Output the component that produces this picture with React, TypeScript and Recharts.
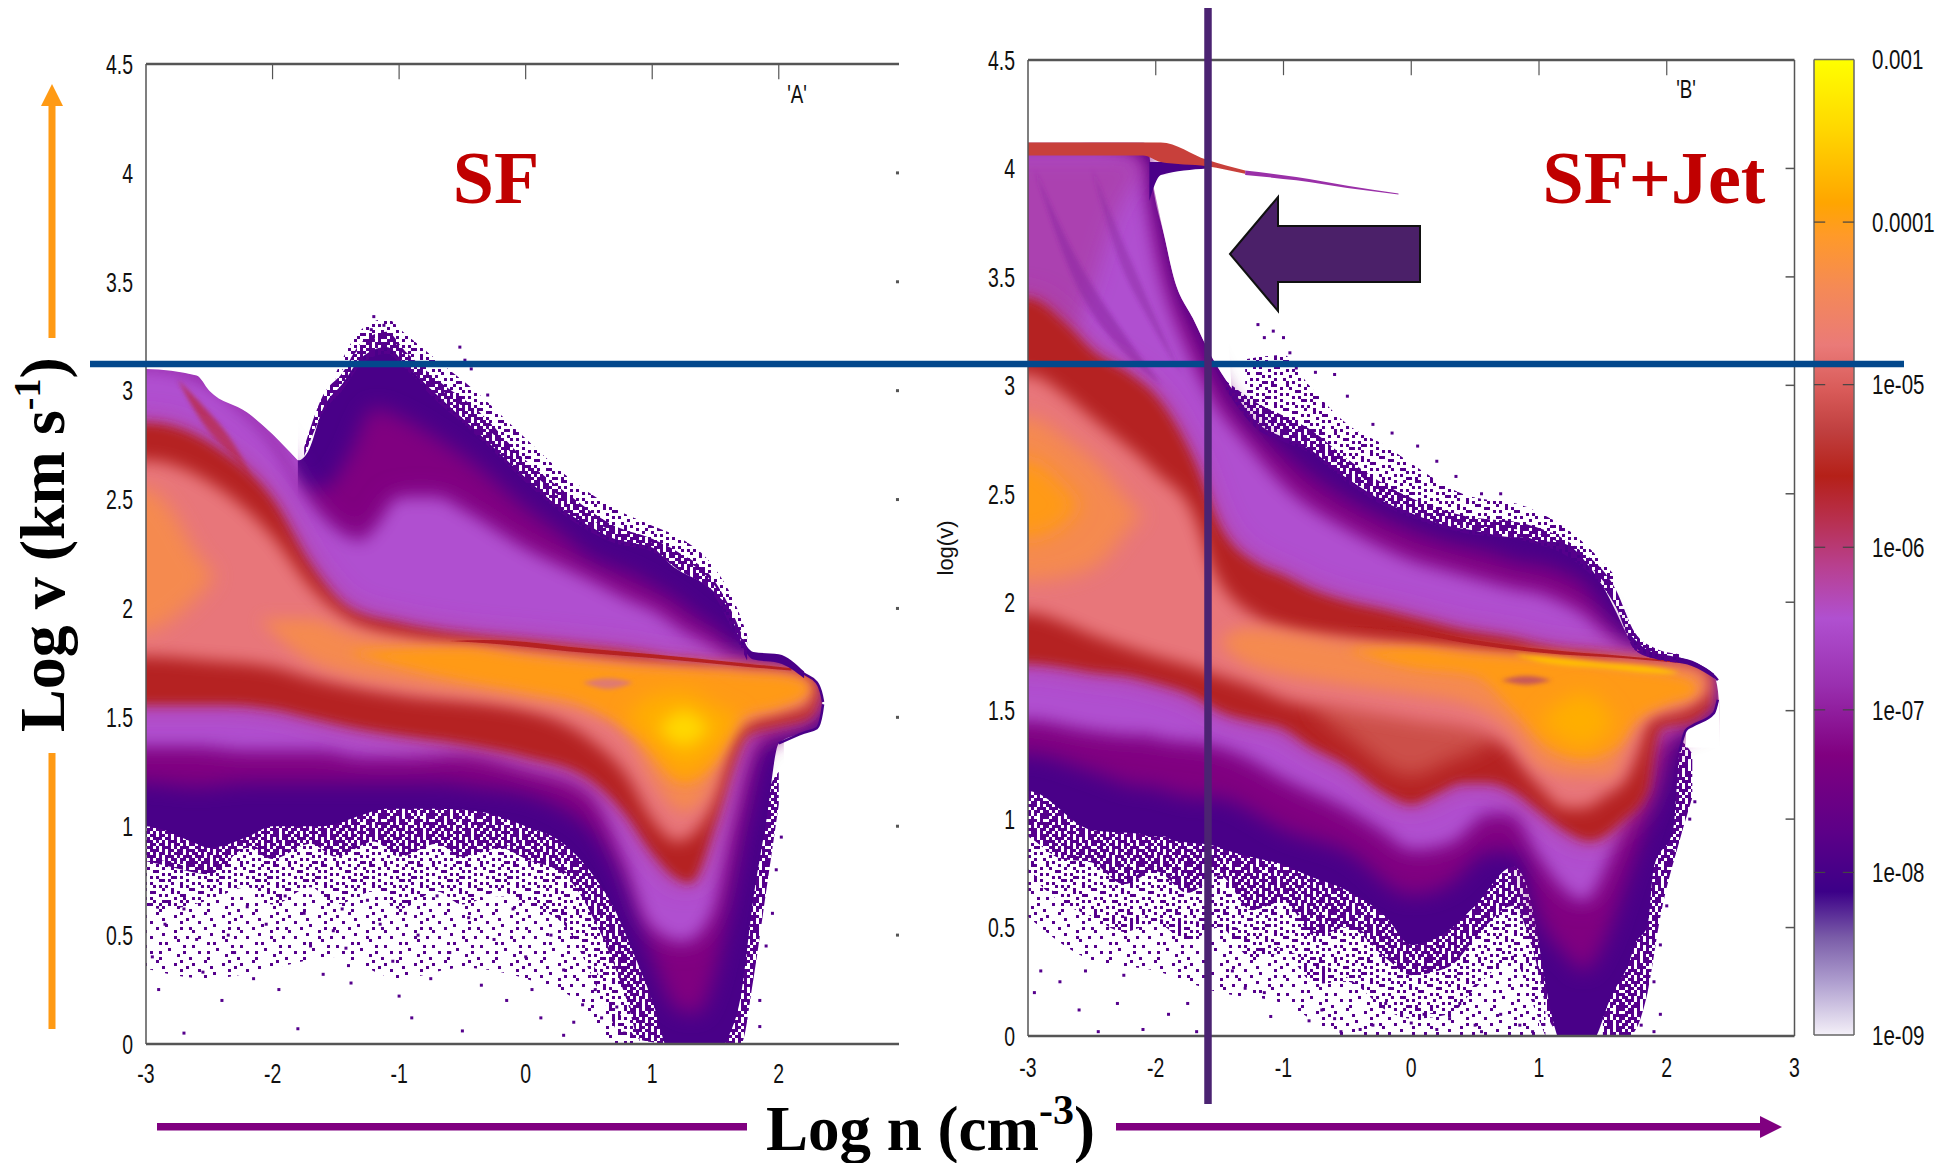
import React from "react";
import { ComposedChart, Area, Scatter, XAxis, YAxis, ReferenceLine } from "recharts";

type Band = [number, number, number][];

// ---------- panel A (SF): contour bands [log n, log v low, log v high] ----------
const A_env: Band = [[-3.3,1.0,3.1],[-3,1.0,3.1],[-2.6,.92,3.07],[-2.5,.9,3.0],[-2.2,.95,2.9],[-2,1.0,2.8],[-1.8,1.0,2.68],[-1.72,1.0,2.72],[-1.6,1.0,2.92],[-1.45,1.02,3.03],[-1.3,1.05,3.15],[-1.1,1.08,3.2],[-.95,1.08,3.12],[-.7,1.08,2.98],[-.4,1.07,2.82],[0,1.0,2.6],[.3,.92,2.45],[.5,.8,2.38],[.7,.62,2.32],[.85,.42,2.3],[1.0,.2,2.28],[1.15,-.05,2.2],[1.5,-.05,2.07],[1.6,.03,2.0],[1.7,.22,1.85],[1.8,.67,1.78],[1.9,1.02,1.78],[2.0,1.38,1.78],[2.2,1.43,1.7],[2.3,1.45,1.66],[2.34,1.52,1.6],[2.35,1.56,1.57]];
const A_topCap: Band = [[-3.3,2.85,3.1],[-3,2.85,3.1],[-2.6,2.85,3.07],[-2.5,2.8,3.0],[-2.2,2.7,2.9],[-2,2.6,2.8],[-1.8,2.5,2.68]];
const A_purple: Band = [[-3.3,1.2,3.1],[-3,1.2,3.1],[-2.6,1.18,3.07],[-2.2,1.2,2.88],[-2,1.2,2.75],[-1.8,1.2,2.55],[-1.6,1.2,2.55],[-1.4,1.2,2.7],[-1.2,1.2,2.92],[-1,1.2,2.88],[-.7,1.2,2.78],[-.4,1.18,2.66],[0,1.15,2.46],[.3,1.08,2.33],[.5,1.0,2.23],[.7,.85,2.18],[.85,.68,2.15],[1,.4,2.1],[1.2,.16,2.03],[1.35,.14,1.96],[1.5,.34,1.9],[1.65,.8,1.8],[1.75,1.1,1.74],[1.85,1.35,1.73],[2,1.42,1.73],[2.2,1.47,1.68],[2.3,1.5,1.64],[2.33,1.55,1.58]];
const A_bright: Band = [[-3.3,1.38,3.1],[-3,1.38,3.1],[-2.6,1.38,3.05],[-2.2,1.36,2.88],[-2,1.36,2.75],[-1.8,1.36,2.55],[-1.6,1.36,2.4],[-1.3,1.33,2.3],[-1.15,1.33,2.38],[-1,1.33,2.5],[-.7,1.34,2.5],[-.5,1.35,2.44],[0,1.28,2.26],[.5,1.18,2.12],[.8,.85,2.03],[1,.55,1.98],[1.25,.48,1.88],[1.45,.6,1.82],[1.6,1.0,1.76],[1.75,1.35,1.74],[1.85,1.45,1.73],[2.2,1.5,1.68],[2.3,1.55,1.6]];
const A_arc: Band = [[-2.75,3.05,3.05],[-2.55,2.85,2.93],[-2.3,2.68,2.75],[-2.1,2.52,2.52]];
const A_red: Band = [[-3.3,1.56,2.85],[-3,1.56,2.85],[-2.4,1.56,2.72],[-2,1.54,2.5],[-1.7,1.5,2.2],[-1.4,1.46,2.0],[-1,1.42,1.93],[-.5,1.38,1.88],[0,1.32,1.85],[.5,1.22,1.82],[.8,1.05,1.8],[1,.88,1.78],[1.2,.76,1.76],[1.3,.74,1.76],[1.5,1.02,1.74],[1.65,1.3,1.74],[1.75,1.42,1.74],[2,1.46,1.72],[2.25,1.5,1.69],[2.32,1.58,1.62]];
const A_salmon: Band = [[-3.3,1.78,2.68],[-3,1.78,2.68],[-2.5,1.76,2.58],[-2,1.73,2.33],[-1.7,1.68,2.1],[-1.4,1.64,1.95],[-1,1.6,1.87],[0,1.53,1.81],[.5,1.4,1.78],[.8,1.23,1.76],[1,1.03,1.75],[1.2,.93,1.74],[1.35,.98,1.73],[1.5,1.13,1.72],[1.6,1.33,1.72],[1.7,1.47,1.71],[2,1.52,1.7],[2.25,1.55,1.67]];
const A_blob: Band = [[-3.3,1.9,2.55],[-3,1.9,2.55],[-2.8,1.95,2.45],[-2.6,2.05,2.25],[-2.45,2.15,2.15]];
const A_glow: Band = [[-2.1,1.95,1.95],[-1.7,1.76,1.95],[-1.4,1.7,1.89],[-1,1.66,1.85],[0,1.58,1.79],[.5,1.52,1.76],[.8,1.43,1.74],[1,1.22,1.73],[1.25,1.07,1.72],[1.45,1.17,1.72],[1.6,1.4,1.72],[1.75,1.48,1.71],[2,1.53,1.7],[2.2,1.58,1.68],[2.27,1.63,1.63]];
const A_orange: Band = [[-1.4,1.8,1.8],[-.5,1.67,1.82],[0,1.62,1.78],[.5,1.55,1.75],[.9,1.4,1.73],[1.25,1.2,1.72],[1.5,1.3,1.71],[1.7,1.5,1.7],[2,1.55,1.69],[2.2,1.6,1.66],[2.25,1.63,1.63]];
const A_amber: Band = [[.8,1.5,1.5],[1,1.38,1.6],[1.25,1.25,1.62],[1.5,1.35,1.55],[1.7,1.5,1.5]];
const A_yellow: Band = [[1.05,1.45,1.45],[1.25,1.37,1.53],[1.45,1.45,1.45]];
const A_lens: Band = [[.45,1.66,1.66],[.65,1.63,1.68],[.85,1.66,1.66]];
const A_ridge: Band = [[-.6,1.85,1.85],[-.3,1.84,1.855],[.5,1.795,1.815],[1,1.772,1.79],[1.7,1.735,1.75],[2.1,1.715,1.725]];
const A_maskLeft: Band = [[-3.3,3.1,3.3],[-3,3.1,3.3],[-2.6,3.07,3.3],[-2.5,3.0,3.3],[-2.2,2.9,3.3],[-2,2.8,3.3],[-1.8,2.68,2.95]];
const A_maskTipTop: Band = [[1.7,1.85,2.0],[1.8,1.78,2.0],[1.9,1.78,2.0],[2.0,1.78,2.0],[2.2,1.7,2.0],[2.3,1.66,2.0],[2.34,1.6,2.0],[2.36,1.25,2.0],[2.7,1.25,2.0]];
const A_maskTipLow: Band = [[2.04,1.25,1.39],[2.2,1.25,1.43],[2.3,1.25,1.45],[2.34,1.25,1.52],[2.36,1.25,1.56]];
const A_rim: Band = [[2.0,1.38,1.78],[2.2,1.43,1.7],[2.3,1.45,1.66],[2.34,1.52,1.6],[2.35,1.56,1.57]];
const A_shelf: Band = [[1.7,1.84,1.87],[1.8,1.765,1.8],[2.0,1.75,1.79],[2.2,1.68,1.71]];
const A_denseLow: Band = [[-3.3,.88,1.06],[-2.85,.82,1.02],[-2.5,.78,.96],[-2.2,.9,1.02],[-2,.85,1.06],[-1.7,.92,1.06],[-1.5,.86,1.08],[-1.2,.93,1.12],[-1,.86,1.14],[-.7,.92,1.14],[-.5,.86,1.13],[-.2,.9,1.1],[0,.85,1.06],[.3,.78,.98],[.6,.5,.76],[.8,.2,.54],[.9,.02,.44],[1.15,0,.05]];
const A_medLow: Band = [[-3.3,.7,.9],[-2.85,.62,.84],[-2.5,.66,.8],[-2.2,.72,.92],[-2,.64,.87],[-1.7,.72,.94],[-1.5,.64,.88],[-1.2,.7,.95],[-1,.62,.88],[-.7,.7,.94],[-.5,.64,.88],[-.2,.7,.92],[0,.64,.87],[.3,.55,.8],[.6,.22,.52],[.8,0,.22],[.9,0,.04]];
const A_sparseLow: Band = [[-3.3,.4,.72],[-2.5,.3,.67],[-2,.35,.7],[-1.5,.4,.68],[-1,.3,.68],[-.5,.35,.67],[0,.3,.68],[.4,.2,.5],[.7,0,.18],[.9,0,0]];
const A_fringeTop: Band = [[-1.75,2.7,2.74],[-1.6,2.9,2.98],[-1.45,3.0,3.08],[-1.3,3.12,3.22],[-1.1,3.17,3.27],[-.95,3.1,3.18],[-.7,2.95,3.05],[-.4,2.8,2.92],[0,2.58,2.68],[.3,2.43,2.54],[.7,2.3,2.38],[1,2.26,2.32],[1.2,2.18,2.26],[1.5,2.05,2.12],[1.65,1.88,1.96],[1.75,1.76,1.82]];
const A_fringeOuter: Band = [[-1.5,3.05,3.08],[-1.3,3.2,3.28],[-1.1,3.25,3.33],[-.95,3.16,3.26],[-.7,3.02,3.14],[-.4,2.88,3.0],[0,2.65,2.78],[.3,2.5,2.62],[.7,2.35,2.46],[1,2.3,2.38],[1.2,2.24,2.33],[1.5,2.1,2.18],[1.65,1.94,2.03],[1.75,1.8,1.88]];
const A_fringeSide: Band = [[1.5,0,.1],[1.7,0,.3],[1.8,.3,.76],[1.9,.7,1.12],[2.0,1.1,1.25]];
const A_dots: [number, number][] = [[-2.7,.05],[-1.8,.07],[-.9,.12],[-.5,.06],[.3,.04],[-2.95,.4],[-2.9,.25],[-2.85,.55],[-2.7,.62],[-2.6,.48],[-2.55,.33],[-2.4,.2],[-2.35,.5],[-2.3,.42],[-2.2,.63],[-2.15,.3],[-2.05,.55],[-1.95,.25],[-1.9,.68],[-1.75,.6],[-1.7,.45],[-1.6,.32],[-1.52,.52],[-1.45,.62],[-1.42,.44],[-1.4,.36],[-1.38,.28],[-1.25,.66],[-1.15,.55],[-1.05,.38],[-1,.22],[-.95,.6],[-.85,.5],[-.75,.3],[-.7,.68],[-.6,.42],[-.45,.58],[-.35,.27],[-.25,.48],[-.15,.2],[-.1,.62],[0,.4],[.05,.25],[.12,.12],[.2,.5],[.3,.34],[.38,.1],[.45,.18],[.55,.25],[.6,.12],[.72,.17],[.78,.05],[1.85,.2],[1.9,.45],[1.95,.6],[1.85,.08],[2.02,.95],[1.98,.8],[-1.22,3.28],[-1.2,3.34],[-1.12,3.3],[-.52,3.2],[-.48,3.14],[-.43,3.1],[-.3,2.98]];

// ---------- panel B (SF+Jet) ----------
const B_env: Band = [[-3.3,1.13,4.1],[-3,1.13,4.1],[-2.5,.95,4.12],[-2.1,.93,4.12],[-2.06,.92,4.1],[-2.03,.92,3.95],[-1.93,.92,3.68],[-1.86,.9,3.5],[-1.71,.89,3.31],[-1.56,.88,3.13],[-1.41,.85,2.99],[-1.21,.82,2.83],[-1,.79,2.76],[-.81,.74,2.71],[-.5,.67,2.57],[-.2,.55,2.46],[0,.42,2.41],[.3,.49,2.35],[.5,.6,2.33],[.8,.78,2.3],[.9,.7,2.3],[1,.42,2.28],[1.05,.24,2.28],[1.2,-.05,2.27],[1.4,-.05,2.16],[1.45,0,2.12],[1.55,.16,2.02],[1.6,.22,1.96],[1.7,.33,1.84],[1.75,.42,1.8],[1.85,.51,1.77],[1.9,.78,1.76],[2.05,.95,1.74],[2.1,1.31,1.74],[2.15,1.41,1.73],[2.2,1.43,1.72],[2.37,1.49,1.66],[2.4,1.55,1.64]];
const B_hook: Band = [[-2.05,3.85,4.03],[-1.96,3.97,4.03],[-1.6,4.0,4.02]];
const B_purple: Band = [[-3.3,1.3,4.1],[-3,1.3,4.1],[-2.5,1.22,4.12],[-2.1,1.15,4.1],[-2.03,1.15,3.9],[-1.93,1.13,3.66],[-1.86,1.12,3.48],[-1.71,1.1,3.28],[-1.5,1.1,3.02],[-1.4,1.08,2.92],[-1,.95,2.68],[-.5,.85,2.47],[0,.65,2.33],[.3,.7,2.27],[.6,.85,2.23],[.85,.85,2.18],[1,.55,2.17],[1.2,.38,2.13],[1.35,.3,2.08],[1.5,.42,1.95],[1.7,.75,1.8],[1.9,1.1,1.75],[2.05,1.35,1.74],[2.2,1.45,1.71],[2.35,1.52,1.65]];
const B_bright: Band = [[-3.3,1.47,4.08],[-3,1.47,4.08],[-2.5,1.42,4.08],[-2.15,1.4,4.04],[-2.08,1.4,3.8],[-2,1.39,3.55],[-1.93,1.38,3.4],[-1.8,1.37,3.2],[-1.6,1.36,2.95],[-1.3,1.3,2.72],[-1,1.2,2.52],[-.5,1.06,2.32],[-.2,.95,2.23],[0,.87,2.18],[.3,.9,2.13],[.6,1.04,2.08],[.8,1.04,2.05],[1,.85,2.03],[1.2,.69,1.98],[1.35,.63,1.93],[1.5,.78,1.85],[1.7,1.1,1.77],[1.85,1.34,1.75],[2,1.41,1.74],[2.2,1.47,1.7],[2.33,1.53,1.64]];
const B_magenta: Band = [[-3.3,3.1,4.05],[-3,3.1,4.05],[-2.6,3.3,4.05],[-2.3,3.8,4.05],[-2.1,4.0,4.03]];
const B_streak1: Band = [[-2.95,4.0,4.0],[-2.65,3.5,3.62],[-2.25,3.15,3.24],[-1.95,3.0,3.0]];
const B_streak2: Band = [[-2.5,4.0,4.0],[-2.3,3.6,3.72],[-2.05,3.3,3.38],[-1.8,3.05,3.05]];
const B_cap: Band = [[-3.3,4.06,4.12],[-2.1,4.06,4.12],[-1.96,4.03,4.12],[-1.6,4.01,4.04],[-1.3,3.975,3.99]];
const B_filament: Band = [[-1.3,3.97,3.99],[-.9,3.945,3.96],[-.5,3.91,3.92],[-.1,3.88,3.885]];
const B_red: Band = [[-3.3,1.72,3.4],[-3,1.72,3.4],[-2.7,1.7,3.28],[-2.5,1.68,3.16],[-2.2,1.66,3.05],[-2,1.63,2.95],[-1.7,1.57,2.65],[-1.5,1.5,2.35],[-1.2,1.45,2.17],[-1,1.42,2.12],[-.8,1.34,2.06],[-.5,1.25,2.0],[-.2,1.12,1.96],[0,1.07,1.93],[.2,1.12,1.9],[.4,1.17,1.87],[.6,1.17,1.85],[.8,1.13,1.83],[1,1.04,1.8],[1.2,.95,1.78],[1.4,.9,1.77],[1.65,.99,1.75],[1.85,1.13,1.74],[1.9,1.31,1.74],[1.95,1.42,1.73],[2.2,1.45,1.72],[2.35,1.52,1.66]];
const B_crescent: Band = [[-.8,1.52,1.52],[-.5,1.38,1.55],[0,1.2,1.5],[.3,1.27,1.48],[.55,1.33,1.42],[.7,1.39,1.39]];
const B_salmon: Band = [[-3.3,1.95,3.05],[-3,1.95,3.05],[-2.7,1.9,2.95],[-2.5,1.85,2.85],[-2,1.75,2.6],[-1.7,1.7,2.4],[-1.55,1.67,2.15],[-1.2,1.6,1.93],[-1,1.55,1.88],[-.5,1.5,1.83],[0,1.45,1.8],[.5,1.4,1.77],[.7,1.35,1.76],[1,1.15,1.75],[1.2,1.05,1.74],[1.35,1.05,1.73],[1.5,1.1,1.73],[1.7,1.2,1.73],[1.8,1.35,1.72],[1.85,1.45,1.72],[2.2,1.52,1.7],[2.33,1.58,1.66]];
const B_blob: Band = [[-3.3,2.1,2.85],[-3,2.1,2.85],[-2.7,2.12,2.75],[-2.4,2.2,2.6],[-2.2,2.35,2.45],[-2.1,2.4,2.4]];
const B_glow: Band = [[-1.5,1.82,1.82],[-1.3,1.72,1.88],[-.5,1.62,1.82],[0,1.58,1.79],[.5,1.52,1.77],[.8,1.4,1.75],[1,1.25,1.74],[1.3,1.2,1.73],[1.55,1.2,1.72],[1.7,1.35,1.72],[1.85,1.48,1.71],[2.2,1.56,1.69],[2.3,1.6,1.66]];
const B_blobCore: Band = [[-3.3,2.3,2.65],[-3,2.3,2.65],[-2.75,2.35,2.55],[-2.6,2.45,2.45]];
const B_orange: Band = [[-.5,1.78,1.78],[0,1.7,1.79],[.5,1.66,1.76],[.8,1.5,1.75],[1.1,1.32,1.74],[1.35,1.28,1.72],[1.6,1.33,1.7],[1.75,1.45,1.69],[2,1.53,1.67],[2.2,1.57,1.63],[2.25,1.6,1.6]];
const B_amber: Band = [[1,1.45,1.45],[1.35,1.33,1.58],[1.6,1.45,1.45]];
const B_streak: Band = [[.8,1.76,1.76],[1,1.75,1.725],[1.5,1.72,1.695],[2,1.69,1.67],[2.1,1.675,1.675]];
const B_lens: Band = [[.7,1.64,1.64],[.9,1.62,1.66],[1.1,1.64,1.64]];
const B_ridge: Band = [[-.5,1.89,1.89],[-.2,1.875,1.89],[.5,1.805,1.825],[1,1.768,1.785],[1.7,1.74,1.75],[2.2,1.715,1.725]];
const B_maskHole: Band = [[-2.03,3.95,3.97],[-1.93,3.68,3.97],[-1.86,3.5,3.96],[-1.71,3.31,3.95],[-1.56,3.13,3.95],[-1.41,2.99,3.02]];
const B_maskAbove: Band = [[-3.3,4.12,4.3],[-2.1,4.12,4.3],[-1.96,4.12,4.3],[-1.6,4.04,4.3],[-1.3,3.99,4.3],[-1.2,3.98,3.99]];
const B_maskTipTop: Band = [[1.7,1.84,2.0],[1.75,1.8,2.0],[1.85,1.77,2.0],[2.05,1.74,2.0],[2.2,1.72,2.0],[2.37,1.66,2.0],[2.41,1.55,2.0],[2.42,1.33,2.0],[2.7,1.33,2.0]];
const B_maskTipLow: Band = [[2.15,1.33,1.41],[2.2,1.33,1.43],[2.37,1.33,1.49],[2.41,1.33,1.55]];
const B_rim: Band = [[2.1,1.31,1.74],[2.15,1.41,1.73],[2.2,1.43,1.72],[2.37,1.49,1.66],[2.4,1.55,1.64]];
const B_shelf: Band = [[1.7,1.83,1.86],[1.85,1.75,1.78],[2.05,1.725,1.75],[2.2,1.705,1.73],[2.37,1.65,1.67]];
const B_denseLow: Band = [[-3.3,.98,1.2],[-3,.92,1.2],[-2.75,.82,1.1],[-2.5,.8,1.02],[-2.25,.7,1.0],[-2,.76,.99],[-1.75,.66,.97],[-1.5,.74,.95],[-1.25,.58,.9],[-1,.62,.85],[-.75,.46,.8],[-.5,.5,.74],[-.2,.36,.62],[0,.28,.5],[.3,.32,.56],[.5,.45,.67],[.8,.6,.85],[.95,.4,.65],[1.1,.05,.28],[1.22,0,0]];
const B_medLow: Band = [[-3,.75,.94],[-2.75,.62,.84],[-2.5,.55,.82],[-2.25,.48,.72],[-2,.52,.78],[-1.75,.44,.68],[-1.5,.5,.76],[-1.25,.36,.6],[-1,.38,.64],[-.75,.24,.48],[-.5,.25,.52],[-.2,.12,.38],[0,.08,.3],[.3,.1,.34],[.5,.22,.47],[.8,.35,.62],[.95,.15,.42],[1.05,0,.2]];
const B_sparseLow: Band = [[-3,.55,.77],[-2.5,.35,.57],[-2,.3,.54],[-1.5,.2,.52],[-1,.15,.4],[-.5,0,.27],[-.2,0,.14],[0,0,.1],[.3,0,.12],[.5,0,.24],[.8,0,.37],[1,0,.1]];
const B_fringeTop: Band = [[-1.45,2.98,3.02],[-1.21,2.8,2.92],[-1.0,2.74,2.86],[-.8,2.69,2.8],[-.5,2.55,2.66],[-.2,2.44,2.54],[0,2.39,2.48],[.4,2.32,2.4],[.9,2.28,2.36],[1.3,2.18,2.25],[1.6,1.98,2.06],[1.75,1.78,1.86],[1.9,1.74,1.79],[2.1,1.72,1.76]];
const B_fringeOuter: Band = [[-1.3,2.88,3.12],[-1.0,2.83,3.14],[-.8,2.77,3.0],[-.5,2.63,2.82],[-.2,2.5,2.72],[0,2.45,2.64],[.4,2.36,2.5],[.9,2.33,2.44],[1.3,2.22,2.3],[1.6,2.03,2.12]];
const B_fringeSide: Band = [[1.5,0,.14],[1.7,0,.42],[1.85,.2,.62],[1.95,.55,1.0],[2.1,.9,1.36],[2.2,1.1,1.3]];
const B_dots: [number, number][] = [[-2.95,.2],[-2.9,.3],[-2.75,.25],[-2.6,.12],[-2.55,.3],[-2.45,.02],[-2.3,.15],[-2.25,.28],[-2.1,.03],[-1.9,.1],[-1.75,.15],[-1.68,.02],[-1.4,.3],[-1.3,.22],[-1.15,.2],[-1.1,.09],[-.8,.07],[-.7,.12],[-.6,.08],[-.55,.02],[-.4,.03],[-.3,.05],[-.2,.15],[.0,.06],[.1,.1],[.2,.03],[.3,.08],[.38,.15],[.5,.05],[.55,.02],[.7,.1],[.85,.05],[.95,.02],[1.75,.14],[1.8,.05],[1.9,.25],[1.95,.1],[1.9,.02],[1.95,.42],[2.0,.6],[2.05,.85],[2.22,1.08],[2.18,1.0],[-1.2,3.28],[-1.15,3.22],[-1.08,3.25],[-1,3.22],[-.95,3.15],[-.9,3.08],[-.75,3.06],[-.6,3.05],[-.5,2.95],[-.3,2.82],[-.15,2.78],[.05,2.72],[.2,2.65],[.35,2.58],[.55,2.5],[.7,2.5]];

// ---------- axes and colour bar ----------
const yTicks = [0, 0.5, 1, 1.5, 2, 2.5, 3, 3.5, 4, 4.5];
const xTicksA = [-3, -2, -1, 0, 1, 2];
const xTicksB = [-3, -2, -1, 0, 1, 2, 3];
const topTicks = [-2, -1, 0, 1, 2];
const cbExponents = [-9, -8, -7, -6, -5, -4, -3];
const cbLabels = ["1e-09", "1e-08", "1e-07", "1e-06", "1e-05", "0.0001", "0.001"];
const cbMultipliers = [2, 5, 8];
const cbStops: [number, string][] = [[0,"#ffff00"],[.07,"#ffd800"],[.147,"#ffa500"],[.18,"#ff9a28"],[.233,"#f58a55"],[.293,"#ea7a78"],[.34,"#d85a58"],[.38,"#c04040"],[.427,"#b52018"],[.473,"#b83050"],[.52,"#b84090"],[.573,"#b050d0"],[.64,"#9a30b0"],[.713,"#800080"],[.793,"#5c0088"],[.853,"#3c0088"],[.9,"#7a5ca8"],[.947,"#b0a0d0"],[1,"#f4f0f8"]];
const cbBar = [{ x: 0, r: [-9, -3] }, { x: 1, r: [-9, -3] }];

// speckle textures
const denseRows = ["#.##.#.###.#..##",".###.##.#.###.#.","##.#.###..##.###","#.###.#.##.#.#.#",".##.###.#.###.##","##.#.#.###.##.#.","#.##.##.#.###.##",".#.###.##.#.#.##","###.#.#.###.##.#","#.##.##.#.##.#.#",".##.#.###.#.###.","#.###.#.##.##.##","##.#.##.#.###.#.",".###.#.###.#.###","#.#.##.#.##.##.#","##.###.##.#.#.##"];
const mediumRows = ["#...#..#...##...",".#....#..#....#.","...##.....#.#...","#.....#.#.....#.","..#.#....##.#...",".....##.#.....#.","#.#......#..#...","...#.#.#....#.#.","#.....#..#.....#","..##.....#.#....",".....#.#....##..","#.#.......#.....","...#..##....#.#.",".#......#.#.....","....#.#.....#..#","#.#.....##.#...."];
const sparseRows = ["....#.......#...","#.........#.....","......#.......#.","..#.........#...",".......#........","....#.......#..#","#.........#.....","......#.........","..#.......#...#.","...........#....",".....#.#........","#............#..","........#.......","..#..#.......#..","...........#....",".....#.........#"];

const C = { dark: "#4a0088", purple: "#800080", midPurple: "#9a30b0", bright: "#b050d0", pink: "#b83c88", red: "#b52020", salmon: "#e8767a", glow: "#f58a50", orange: "#ff9a15", amber: "#ffae00", yellow: "#ffd800", white: "#ffffff" };
type Layer = { band: Band; fill: string; blur?: string; opacity?: number; stroke?: string };
const L = (band: Band, fill: string, blur?: string, opacity?: number, stroke?: string): Layer => ({ band, fill, blur, opacity, stroke });

const layersA: Layer[] = [
  L(A_sparseLow, "url(#sparse)"), L(A_medLow, "url(#medium)"), L(A_denseLow, "url(#dense)"), L(A_fringeSide, "url(#dense)"),
  L(A_env, C.dark, "b1"), L(A_topCap, C.bright), L(A_purple, C.purple, "b10"), L(A_bright, C.midPurple, "b14"), L(A_bright, C.bright, "b8"), L(A_arc, "#b83060", "b2"),
  L(A_red, C.pink, "b14"), L(A_red, C.red, "b6"), L(A_salmon, C.salmon, "b8"),
  L(A_blob, C.glow, "b10"), L(A_glow, C.glow, "b8"), L(A_orange, C.orange, "b6"), L(A_ridge, C.red, "b1"), L(A_lens, "#e07a70", "b2"), L(A_amber, C.amber, "b10"), L(A_yellow, C.yellow, "b8"),
  L(A_maskLeft, C.white), L(A_maskTipTop, C.white), L(A_maskTipLow, C.white),
  L(A_shelf, C.dark), L(A_rim, "none", undefined, undefined, C.dark), L(A_fringeOuter, "url(#medium)"), L(A_fringeTop, "url(#dense)"),
];
const layersB: Layer[] = [
  L(B_sparseLow, "url(#sparse)"), L(B_medLow, "url(#medium)"), L(B_denseLow, "url(#dense)"), L(B_fringeSide, "url(#dense)"),
  L(B_env, C.dark, "b1"), L(B_purple, C.purple, "b10"), L(B_bright, C.midPurple, "b14"), L(B_bright, C.bright, "b8"), L(B_magenta, "#a83aa0", "b10", 0.65), L(B_streak1, "#8e2aa4", "b2", 0.6), L(B_streak2, "#8e2aa4", "b2", 0.5),
  L(B_red, C.pink, "b14"), L(B_red, C.red, "b6"), L(B_crescent, "#cc5048", "b10"), L(B_salmon, C.salmon, "b8"),
  L(B_blob, C.glow, "b10"), L(B_blobCore, C.orange, "b10"), L(B_glow, C.glow, "b8"), L(B_orange, C.orange, "b6"), L(B_ridge, C.red, "b1"), L(B_lens, "#c85858", "b2"), L(B_amber, C.amber, "b10"), L(B_streak, "#ffc000", "b2"),
  L(B_maskHole, C.white), L(B_maskAbove, C.white), L(B_maskTipTop, C.white), L(B_maskTipLow, C.white),
  L(B_shelf, C.dark), L(B_rim, "none", undefined, undefined, C.dark), L(B_fringeOuter, "url(#medium)"), L(B_fringeTop, "url(#dense)"),
  L(B_hook, C.dark), L(B_cap, "#c8403a", "b1"), L(B_filament, "#9a30a8"),
];

const TICK_FONT = "'Liberation Sans', sans-serif";
const tickStyle = { fontFamily: TICK_FONT, fontSize: 27, fill: "#111" };
const AXIS = "#555";

const NarrowText = (p: { x: number; y: number; sx: number; anchor: string; children: any; size?: number; rotate?: number }) => (
  <text transform={`translate(${p.x},${p.y})${p.rotate ? ` rotate(${p.rotate})` : ""} scale(${p.sx},1)`} textAnchor={p.anchor as any} dy=".36em" style={{ ...tickStyle, fontSize: p.size ?? 27 }}>
    {p.children}
  </text>
);
const makeTick = (anchor: string, sx: number, fmt: (v: number) => string) => (p: any) => (
  <NarrowText x={p.x} y={p.y} sx={sx} anchor={anchor}>{fmt(p.payload.value)}</NarrowText>
);

function Defs() {
  const cells = (rows: string[], id: string, color: string) => (
    <pattern id={id} width={48} height={48} patternUnits="userSpaceOnUse">
      {rows.flatMap((row, j) => row.split("").map((c, i) => (c === "#" ? <rect key={`${i}-${j}`} x={i * 3} y={j * 3} width={3} height={3} fill={color} /> : null)))}
    </pattern>
  );
  const blur = (id: string, s: number) => (
    <filter id={id} filterUnits="userSpaceOnUse" x={-100} y={-100} width={2200} height={1400}>
      <feGaussianBlur stdDeviation={s} />
    </filter>
  );
  return (
    <defs>
      {cells(denseRows, "dense", "#55008c")}
      {cells(mediumRows, "medium", "#55008c")}
      {cells(sparseRows, "sparse", "#55008c")}
      {blur("b1", 0.7)}
      {blur("b2", 2)}
      {blur("b6", 5.5)}
      {blur("b8", 8)}
      {blur("b10", 10)}
      {blur("b14", 14)}
    </defs>
  );
}

const Pixel = (p: any) => <rect x={p.cx - 1.5} y={p.cy - 1.5} width={3} height={3} fill="#55008c" />;

function Panel(props: { left: number; width: number; top: number; height: number; plotLeft: number; plotRight: number; plotTop: number; plotBottom: number; xMax: number; xTicks: number[]; layers: Layer[]; dots: [number, number][]; framed: boolean; xMargin: number }) {
  const { left, width, top, height, plotLeft, plotRight, plotTop, plotBottom, xMax, xTicks, layers, dots, framed, xMargin } = props;
  const yW = 60;
  const xH = 46;
  const rightLen = framed ? 0.07 : 0.024;
  return (
    <div style={{ position: "absolute", left, top, width, height }}>
      <ComposedChart width={width} height={height} margin={{ left: plotLeft - left - yW, right: left + width - plotRight, top: plotTop - top, bottom: top + height - plotBottom - xH }}>
        <Defs />
        <XAxis type="number" dataKey="x" domain={[-3, xMax]} ticks={xTicks} allowDataOverflow interval={0} height={xH} tick={makeTick("middle", 0.72, String)} tickLine={false} tickMargin={xMargin} axisLine={{ stroke: AXIS, strokeWidth: 2.5 }} />
        <YAxis type="number" domain={[0, 4.5]} ticks={yTicks} allowDataOverflow interval={0} width={yW} tick={makeTick("end", 0.72, String)} tickLine={false} tickMargin={7} axisLine={{ stroke: AXIS, strokeWidth: 1.5 }} />
        {layers.map((l, i) => (
          <Area
            key={i}
            data={l.band.map(([x, lo, hi]) => ({ x, r: [lo, hi] }))}
            dataKey="r"
            type="monotone"
            fill={l.fill}
            fillOpacity={l.opacity ?? 1}
            stroke={l.stroke ?? "none"}
            strokeWidth={l.stroke ? 2.5 : undefined}
            dot={false}
            activeDot={false}
            filter={l.blur ? `url(#${l.blur})` : undefined}
            isAnimationActive={false}
          />
        ))}
        <Scatter data={dots.map(([x, y]) => ({ x, y }))} dataKey="y" shape={Pixel} isAnimationActive={false} />
        <ReferenceLine segment={[{ x: -3, y: 4.5 }, { x: xMax, y: 4.5 }]} stroke={AXIS} strokeWidth={2.5} ifOverflow="visible" />
        {framed && <ReferenceLine segment={[{ x: xMax, y: 0 }, { x: xMax, y: 4.5 }]} stroke={AXIS} strokeWidth={1.5} ifOverflow="visible" />}
        {topTicks.map((t) => <ReferenceLine key={`t${t}`} segment={[{ x: t, y: 4.5 }, { x: t, y: 4.43 }]} stroke={AXIS} strokeWidth={1.2} ifOverflow="visible" />)}
        {yTicks.slice(1, -1).map((t) => <ReferenceLine key={`r${t}`} segment={[{ x: xMax - rightLen, y: t }, { x: xMax, y: t }]} stroke={AXIS} strokeWidth={framed ? 1.5 : 3} ifOverflow="visible" />)}
      </ComposedChart>
    </div>
  );
}

function ColorBar() {
  const left = 1760, width = 194, plotLeft = 1814, plotRight = 1854, plotTop = 59.5, plotBottom = 1035, h = 1163;
  const marks: [number, number][] = cbExponents.flatMap((e) => [
    ...(e > -3 ? cbMultipliers.map((m) => [e + Math.log10(m), 0.125] as [number, number]) : []),
    ...(e > -9 && e < -3 ? [[e, 0.28] as [number, number]] : []),
  ]);
  return (
    <div style={{ position: "absolute", left, top: 0, width, height: h }}>
      <ComposedChart width={width} height={h} margin={{ left: plotLeft - left, right: 0, top: plotTop, bottom: h - plotBottom }}>
        <defs>
          <linearGradient id="cb" x1="0" y1="0" x2="0" y2="1">
            {cbStops.map(([o, c]) => <stop key={o} offset={o} stopColor={c} />)}
          </linearGradient>
        </defs>
        <XAxis type="number" dataKey="x" domain={[0, 1]} hide />
        <YAxis type="number" orientation="right" domain={[-9, -3]} ticks={cbExponents} interval={0} width={left + width - plotRight} tick={makeTick("start", 0.76, (v) => cbLabels[cbExponents.indexOf(v)])} tickLine={false} axisLine={false} tickMargin={12} />
        <Area data={cbBar} dataKey="r" type="linear" fill="url(#cb)" fillOpacity={1} stroke="#666" strokeWidth={1.5} dot={false} activeDot={false} isAnimationActive={false} />
        <ReferenceLine segment={[{ x: 0, y: -9 }, { x: 0, y: -3 }]} stroke="#666" strokeWidth={1.5} ifOverflow="visible" />
        <ReferenceLine segment={[{ x: 1, y: -9 }, { x: 1, y: -3 }]} stroke="#666" strokeWidth={1.5} ifOverflow="visible" />
        {marks.flatMap(([y, len], i) => [
          <ReferenceLine key={`l${i}`} segment={[{ x: 0, y }, { x: len, y }]} stroke="#444" strokeWidth={1.2} ifOverflow="visible" />,
          <ReferenceLine key={`r${i}`} segment={[{ x: 1 - len, y }, { x: 1, y }]} stroke="#444" strokeWidth={1.2} ifOverflow="visible" />,
        ])}
      </ComposedChart>
    </div>
  );
}

function Overlay() {
  const serif = "'Liberation Serif', 'Times New Roman', serif";
  return (
    <svg width={1954} height={1163} style={{ position: "absolute", left: 0, top: 0, pointerEvents: "none" }}>
      <NarrowText x={797} y={94} sx={0.72} anchor="middle" size={26}>'A'</NarrowText>
      <NarrowText x={1686} y={89} sx={0.72} anchor="middle" size={26}>'B'</NarrowText>
      <NarrowText x={945} y={548} sx={1} anchor="middle" size={22} rotate={-90}>log(v)</NarrowText>
      <text x={496} y={203} textAnchor="middle" fontFamily={serif} fontWeight={700} fontSize={74} fill="#c00000">SF</text>
      <text x={1654} y={203} textAnchor="middle" fontFamily={serif} fontWeight={700} fontSize={74} fill="#c00000">SF+Jet</text>
      <polygon points="1230,254 1278,197 1278,226 1420,226 1420,282 1278,282 1278,311" fill="#4b2069" stroke="#111" strokeWidth={2} />
      <line x1={90} x2={1904} y1={364} y2={364} stroke="#03488c" strokeWidth={6.5} />
      <line x1={1208} x2={1208} y1={8} y2={1104} stroke="#4b2372" strokeWidth={7.5} />
      <rect x={48.5} y={100} width={7} height={238} fill="#ff9a14" />
      <polygon points="52,84 41,106 63,106" fill="#ff9a14" />
      <rect x={48.5} y={753} width={7} height={276} fill="#ff9a14" />
      <rect x={157} y={1123} width={590} height={7.5} fill="#800080" />
      <rect x={1116} y={1123} width={648} height={7.5} fill="#800080" />
      <polygon points="1782,1127 1760,1116 1760,1138" fill="#800080" />
      <text x={766} y={1150} fontFamily={serif} fontWeight={700} fontSize={63} fill="#000">
        Log n (cm<tspan dy={-26} fontSize={42}>-3</tspan><tspan dy={26}>)</tspan>
      </text>
      <text transform="translate(64,732) rotate(-90)" fontFamily={serif} fontWeight={700} fontSize={64} fill="#000">
        Log v (km s<tspan dy={-24} fontSize={38}>-1</tspan><tspan dy={24}>)</tspan>
      </text>
    </svg>
  );
}

export default function App() {
  return (
    <div style={{ position: "absolute", left: 0, top: 0, width: 1954, height: 1163, background: "#fff", overflow: "hidden" }}>
      <Panel left={0} width={940} top={0} height={1163} plotLeft={146} plotRight={899} plotTop={64} plotBottom={1044} xMax={2.95} xTicks={xTicksA} layers={layersA} dots={A_dots} framed={false} xMargin={23} />
      <Panel left={950} width={860} top={0} height={1163} plotLeft={1028} plotRight={1794.5} plotTop={60} plotBottom={1036} xMax={3} xTicks={xTicksB} layers={layersB} dots={B_dots} framed={true} xMargin={25} />
      <ColorBar />
      <Overlay />
    </div>
  );
}
